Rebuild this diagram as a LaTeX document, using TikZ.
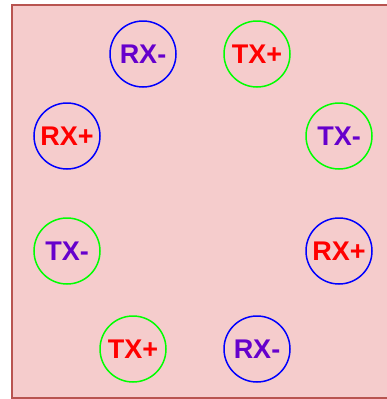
\documentclass[tikz,border=0pt]{standalone}
\usepackage{fontspec}
\setmainfont{Liberation Sans}
\definecolor{bgfill}{HTML}{F5CCCC}
\definecolor{bgline}{HTML}{B85450}
\definecolor{purp}{HTML}{6600CC}
\definecolor{redt}{HTML}{FF0000}
\definecolor{blueln}{HTML}{0000FF}
\definecolor{greenln}{HTML}{00FF00}
\begin{document}
\begin{tikzpicture}[x=1pt,y=-1pt,
  port/.style={circle,minimum size=66pt,inner sep=0pt,line width=1.5pt,font=\fontsize{27}{30}\selectfont\bfseries},
  rxport/.style={port,draw=blueln},
  txport/.style={port,draw=greenln},
  plus/.style={text=redt},
  minus/.style={text=purp}]
\useasboundingbox (0,0) rectangle (387,399);
\draw[fill=bgfill,draw=bgline,line width=1.5pt] (12,5) rectangle (400,398);
\node[rxport,minus] (rxm1) at (143,54) {RX-};
\node[txport,plus] (txp1) at (257,54) {TX+};
\node[rxport,plus] (rxp1) at (67,136) {RX+};
\node[txport,minus] (txm1) at (339,136) {TX-};
\node[txport,minus] (txm2) at (67,251) {TX-};
\node[rxport,plus] (rxp2) at (339,251) {RX+};
\node[txport,plus] (txp2) at (133,349) {TX+};
\node[rxport,minus] (rxm2) at (257,349) {RX-};
\end{tikzpicture}
\end{document}
